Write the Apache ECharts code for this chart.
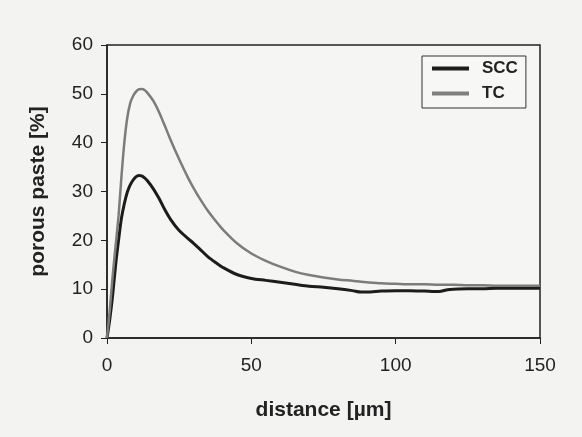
<!DOCTYPE html>
<html>
<head>
<meta charset="utf-8">
<script src="https://cdn.jsdelivr.net/npm/echarts@6/dist/echarts.min.js"></script>
<style>
html, body { margin: 0; padding: 0; background: #f3f3f1; }
#chart { width: 582px; height: 437px; }
</style>
</head>
<body>
<div id="chart"></div>
<script>
// distance [µm]
var distance = [0, 1, 2, 3, 4, 5, 6, 7, 8, 9, 10, 11, 12, 13, 14, 16, 18, 20, 22, 25, 28, 30, 32, 35, 38, 40,
    45, 50, 55, 60, 65, 70, 75, 80, 85, 88, 90, 95, 100, 105, 110, 115, 118, 120, 125, 130, 135, 140, 145, 150];
// porous paste [%]
var scc = [0, 4, 9, 15, 20, 24.5, 27.5, 29.8, 31.3, 32.3, 33, 33.3, 33.2, 32.8, 32.2, 30.6, 28.6, 26.3, 24.3, 22, 20.4, 19.4, 18.3, 16.6, 15.3, 14.5,
    13, 12.2, 11.8, 11.4, 11, 10.6, 10.4, 10.1, 9.7, 9.4, 9.4, 9.6, 9.7, 9.7, 9.6, 9.5, 9.9, 10, 10.1, 10.1, 10.2, 10.2, 10.2, 10.2];
var tc = [0, 6, 13, 19, 25, 33, 40, 45, 48, 49.5, 50.4, 50.9, 51, 50.8, 50.2, 48.6, 46.3, 43.5, 40.6, 36.6, 32.9, 30.7, 28.7, 26, 23.7, 22.3,
    19.4, 17.3, 15.8, 14.6, 13.6, 12.9, 12.4, 12, 11.7, 11.5, 11.4, 11.2, 11.1, 11, 11, 10.9, 10.9, 10.9, 10.8, 10.8, 10.7, 10.7, 10.7, 10.7];

function pairs(ys) {
    return distance.map(function (x, i) { return [x, ys[i]]; });
}

var chart = echarts.init(document.getElementById('chart'));
chart.setOption({
    backgroundColor: '#f3f3f1',
    animation: false,
    textStyle: { fontFamily: 'Liberation Sans, Arial, sans-serif' },
    grid: {
        left: 107, right: 42, top: 45, bottom: 99,
        show: true, borderColor: '#222', borderWidth: 1.5, backgroundColor: '#f5f5f3'
    },
    legend: {
        orient: 'vertical',
        left: 422, top: 56,
        padding: [4, 8, 6, 10],
        itemGap: 8,
        itemWidth: 37, itemHeight: 4,
        borderColor: '#333', borderWidth: 1,
        backgroundColor: '#f7f7f5',
        textStyle: { fontSize: 17, fontWeight: 'bold', color: '#222', padding: [0, 0, 0, 8] },
        data: [
            { name: 'SCC', icon: 'rect' },
            { name: 'TC', icon: 'rect' }
        ]
    },
    xAxis: {
        type: 'value',
        min: 0, max: 150, interval: 50,
        name: 'distance [µm]',
        nameLocation: 'middle',
        nameGap: 62,
        nameTextStyle: { fontSize: 21, fontWeight: 'bold', color: '#222' },
        axisLine: { lineStyle: { color: '#222', width: 1.5 } },
        axisTick: { length: 6, lineStyle: { color: '#222' } },
        axisLabel: { fontSize: 19, color: '#222', margin: 18 },
        splitLine: { show: false }
    },
    yAxis: {
        type: 'value',
        min: 0, max: 60, interval: 10,
        name: 'porous paste [%]',
        nameLocation: 'middle',
        nameGap: 58,
        nameTextStyle: { fontSize: 21, fontWeight: 'bold', color: '#222' },
        axisLine: { show: true, lineStyle: { color: '#222', width: 1.5 } },
        axisTick: { show: true, length: 6, lineStyle: { color: '#222' } },
        axisLabel: { fontSize: 19, color: '#222', margin: 14 },
        splitLine: { show: false }
    },
    series: [
        {
            name: 'SCC',
            type: 'line',
            data: pairs(scc),
            smooth: 0.3,
            showSymbol: false,
            color: '#1c1c1c',
            lineStyle: { color: '#1c1c1c', width: 3 }
        },
        {
            name: 'TC',
            type: 'line',
            data: pairs(tc),
            smooth: 0.3,
            showSymbol: false,
            color: '#808080',
            lineStyle: { color: '#7c7c7c', width: 2.5 }
        }
    ]
});
</script>
</body>
</html>
